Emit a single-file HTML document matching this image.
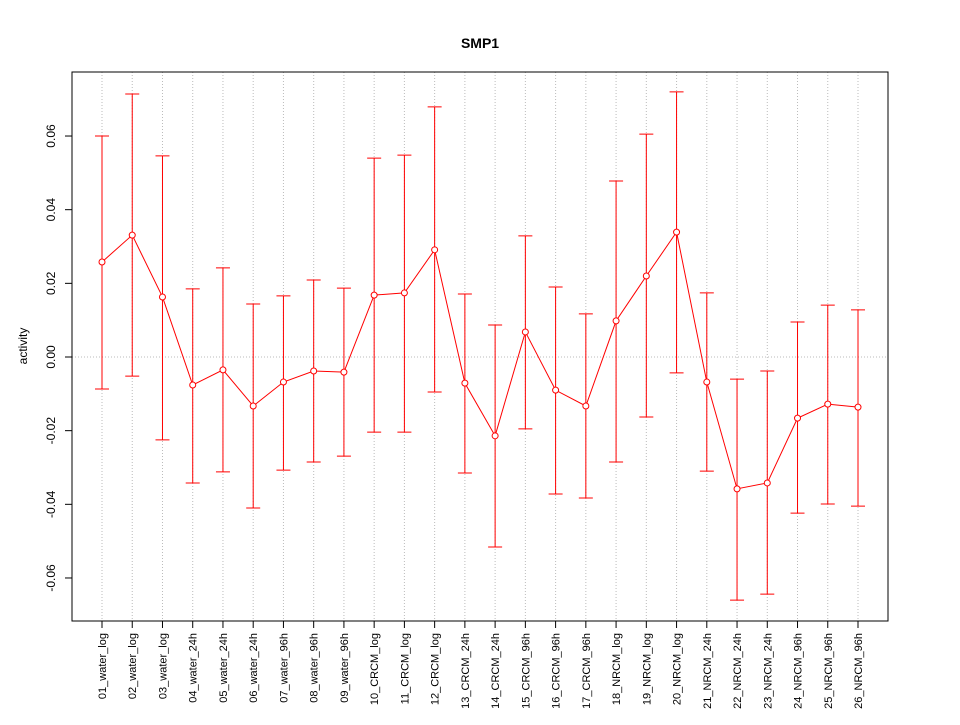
<!DOCTYPE html>
<html><head><meta charset="utf-8"><style>
body{margin:0;background:#fff}
svg text{font-family:"Liberation Sans",Arial,sans-serif}
</style></head><body>
<svg id="chart" width="960" height="720" xmlns="http://www.w3.org/2000/svg">
<rect width="960" height="720" fill="#fff"/>
<text x="480" y="48" text-anchor="middle" font-size="14" font-weight="bold">SMP1</text>
<g id="grid"></g>
<g id="yaxis"></g>
<g id="xaxis"></g>
<g id="series"></g>
<rect x="72" y="72" width="816" height="549" fill="none" stroke="#000"/>
<text transform="translate(27,346) rotate(-90)" text-anchor="middle" font-size="12">activity</text>
</svg>
<script>
const categories=["01_water_log","02_water_log","03_water_log","04_water_24h","05_water_24h","06_water_24h","07_water_96h","08_water_96h","09_water_96h","10_CRCM_log","11_CRCM_log","12_CRCM_log","13_CRCM_24h","14_CRCM_24h","15_CRCM_96h","16_CRCM_96h","17_CRCM_96h","18_NRCM_log","19_NRCM_log","20_NRCM_log","21_NRCM_24h","22_NRCM_24h","23_NRCM_24h","24_NRCM_96h","25_NRCM_96h","26_NRCM_96h"];
const means=[0.0258,0.0331,0.0163,-0.0076,-0.0035,-0.0133,-0.0068,-0.0038,-0.0041,0.0168,0.0174,0.0291,-0.0071,-0.0214,0.0068,-0.0090,-0.0133,0.0098,0.0220,0.0339,-0.0068,-0.0358,-0.0342,-0.0166,-0.0128,-0.0136];
const uppers=[0.0600,0.0714,0.0546,0.0185,0.0242,0.0144,0.0166,0.0209,0.0187,0.0540,0.0548,0.0679,0.0171,0.0087,0.0329,0.0190,0.0117,0.0478,0.0605,0.0720,0.0174,-0.0060,-0.0038,0.0095,0.0141,0.0128];
const lowers=[-0.0087,-0.0052,-0.0225,-0.0342,-0.0312,-0.0410,-0.0307,-0.0285,-0.0269,-0.0204,-0.0204,-0.0095,-0.0315,-0.0516,-0.0195,-0.0372,-0.0383,-0.0285,-0.0163,-0.0043,-0.0310,-0.0660,-0.0644,-0.0424,-0.0399,-0.0405];
const yTicks=[-0.06,-0.04,-0.02,0.00,0.02,0.04,0.06];
const yTickLabels=["-0.06","-0.04","-0.02","0.00","0.02","0.04","0.06"];
const NS="http://www.w3.org/2000/svg";
function xs(i){return 102+i*(756/25);}
function ys(v){return 357-v*3683;}
function mk(tag,attrs,parent){const e=document.createElementNS(NS,tag);for(const k in attrs)e.setAttribute(k,attrs[k]);parent.appendChild(e);return e;}
const grid=document.getElementById('grid'),ya=document.getElementById('yaxis'),xa=document.getElementById('xaxis'),se=document.getElementById('series');
categories.forEach((c,i)=>{
 const g=mk('line',{x1:xs(i),x2:xs(i),y1:72,y2:621,stroke:'#bbb','stroke-dasharray':'1,2'},grid);
 
 
 const t=mk('line',{x1:xs(i),x2:xs(i),y1:621,y2:628,stroke:'#000'},xa);
 
 
 const l=mk('text',{transform:`translate(${xs(i)+4},633) rotate(-90)`,'text-anchor':'end','font-size':'11'},xa);
 l.textContent=c;
 
 
});
const z=mk('line',{x1:72,x2:888,y1:ys(0),y2:ys(0),stroke:'#bbb','stroke-dasharray':'1,2'},grid);


mk('line',{x1:72,x2:72,y1:ys(yTicks[0]),y2:ys(yTicks[yTicks.length-1]),stroke:'#000'},ya);
yTicks.forEach((v,i)=>{
 const t=mk('line',{x1:65,x2:72,y1:ys(v),y2:ys(v),stroke:'#000'},ya);
 
 
 const l=mk('text',{transform:`translate(55,${ys(v)}) rotate(-90)`,'text-anchor':'middle','font-size':'12'},ya);
 l.textContent=yTickLabels[i];
 
 
});
mk('line',{x1:xs(0),x2:xs(25),y1:621,y2:621,stroke:'#000'},xa);
categories.forEach((c,i)=>{
 const x=xs(i);
 const e=mk('path',{d:`M${x},${ys(uppers[i])}V${ys(lowers[i])}M${x-7},${ys(uppers[i])}H${x+7}M${x-7},${ys(lowers[i])}H${x+7}`,stroke:'#f00',fill:'none'},se);
 
 
});
const pl=mk('polyline',{points:means.map((v,i)=>xs(i)+','+ys(v)).join(' '),stroke:'#f00',fill:'none'},se);


means.forEach((v,i)=>{
 const p=mk('circle',{cx:xs(i),cy:ys(v),r:3,stroke:'#f00',fill:'#fff'},se);
 
 
});
</script>
</body></html>
